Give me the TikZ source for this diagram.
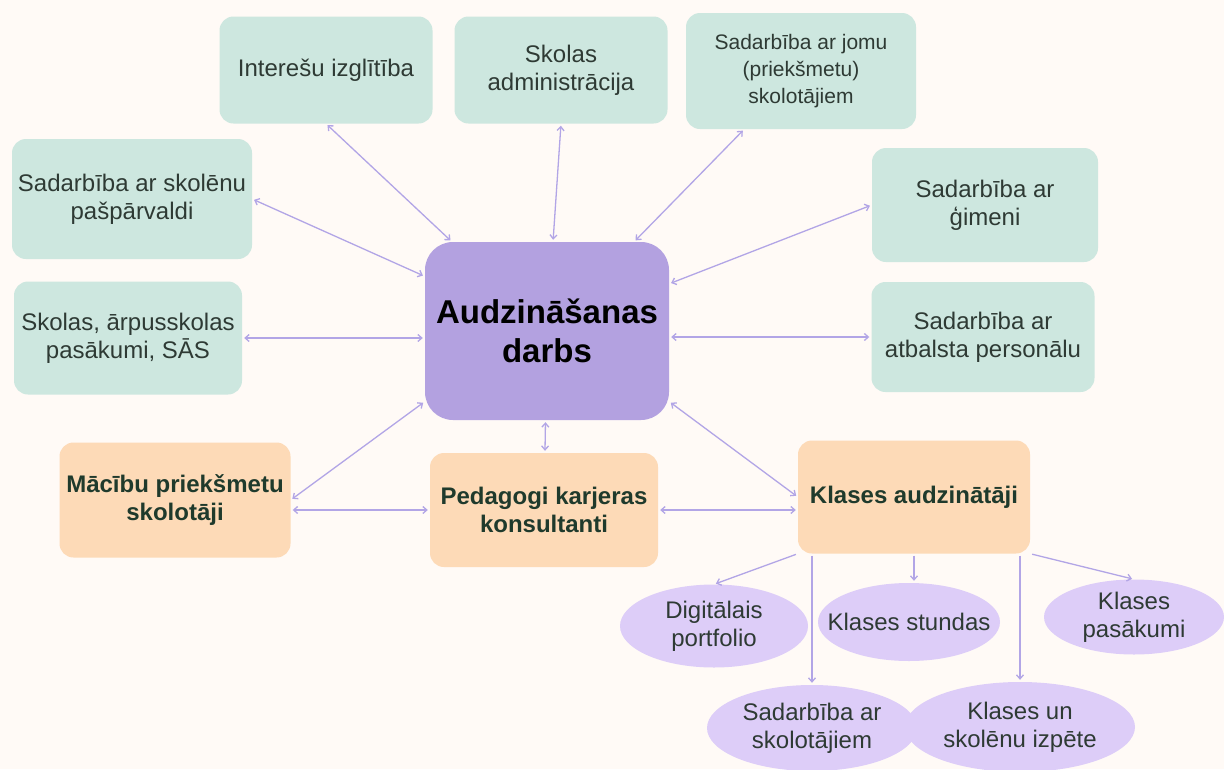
\documentclass[tikz,border=0pt]{standalone}
\usepackage{fontspec}
\setmainfont{Liberation Sans}
\usetikzlibrary{shapes.geometric,arrows.meta}
\definecolor{bgcol}{HTML}{FFFAF6}
\definecolor{tealbox}{HTML}{CDE7DF}
\definecolor{mainbox}{HTML}{B3A1E0}
\definecolor{rolebox}{HTML}{FDDAB7}
\definecolor{lilac}{HTML}{DDCDF8}
\definecolor{linkcol}{HTML}{B2A5E6}
\definecolor{txtcol}{HTML}{2E3A34}
\definecolor{roletxt}{HTML}{1F3A2C}
\begin{document}
\begin{tikzpicture}[
    x=1pt, y=-1pt,
    every node/.style={align=center, text=txtcol, inner sep=2pt, font=\fontsize{24}{28}\selectfont},
    topic/.style={fill=tealbox, rounded corners=14pt},
    role/.style={fill=rolebox, rounded corners=14pt, text=roletxt, font=\fontsize{24}{28}\selectfont\bfseries},
    task/.style={ellipse, fill=lilac, inner xsep=-25pt, inner ysep=0pt},
    link/.style={draw=linkcol, line width=1.3pt, shorten <=2pt, shorten >=2pt},
    >={Straight Barb[length=4pt,width=7pt]}
]
\fill[bgcol] (0,0) rectangle (1224,769);
\useasboundingbox (0,0) rectangle (1224,769);
\clip (0,0) rectangle (1224,769);

% centre
\node[fill=mainbox, rounded corners=28pt, minimum width=244pt, minimum height=178pt,
      text=black, font=\fontsize{33}{39}\selectfont\bfseries] (main) at (547,331) {Audzināšanas\\darbs};

% partners
\node[topic, minimum width=213pt, minimum height=107pt] (intr) at (326,70) {Interešu izglītība};
\node[topic, minimum width=213pt, minimum height=107pt] (adm) at (561,70) {Skolas\\administrācija};
\node[topic, minimum width=230pt, minimum height=116pt, font=\fontsize{21}{27}\selectfont] (jomu) at (801,71) {Sadarbība ar jomu\\(priekšmetu)\\skolotājiem};
\node[topic, minimum width=240pt, minimum height=120pt] (pasp) at (132,199) {Sadarbība ar skolēnu\\pašpārvaldi};
\node[topic, minimum width=226pt, minimum height=114pt] (gim) at (985,205) {Sadarbība ar\\ģimeni};
\node[topic, minimum width=228pt, minimum height=113pt] (ark) at (128,338) {Skolas, ārpusskolas\\pasākumi, SĀS};
\node[topic, minimum width=223pt, minimum height=110pt] (atb) at (983,337) {Sadarbība ar\\atbalsta personālu};

% roles
\node[role, minimum width=231pt, minimum height=115pt] (mac) at (175,500) {Mācību priekšmetu\\skolotāji};
\node[role, minimum width=228pt, minimum height=114pt] (ped) at (544,510) {Pedagogi karjeras\\konsultanti};
\node[role, minimum width=232pt, minimum height=113pt] (kla) at (914,497) {Klases audzinātāji};

% tasks
\node[task, minimum width=188pt, minimum height=83pt] (dig) at (714,626) {Digitālais\\portfolio};
\node[task, minimum width=182pt, minimum height=78pt] (stu) at (909,622) {Klases stundas};
\node[task, minimum width=180pt, minimum height=75pt] (pas) at (1134,617) {Klases\\pasākumi};
\node[task, minimum width=210pt, minimum height=86pt] (sk) at (812,728) {Sadarbība ar\\skolotājiem};
\node[task, minimum width=230pt, minimum height=90pt] (izp) at (1020,727) {Klases un\\skolēnu izpēte};

% links
\draw[link, <->] (intr.south) -- (main);
\draw[link, <->] (adm.south) -- (main);
\draw[link, <->] (jomu) -- (main);
\draw[link, <->] (pasp.east) -- (main);
\draw[link, <->] (gim.west) -- (main);
\draw[link, <->] (ark.east) -- (ark.east -| main.west);
\draw[link, <->] (atb.west) -- (atb.west -| main.east);
\draw[link, <->] (mac.east) -- (main.210);
\draw[link, <->] (ped) -- (main);
\draw[link, <->] (kla.west) -- (main.-30);
\draw[link, <->] (ped.west) -- (ped.west -| mac.east);
\draw[link, <->] (ped.east) -- (ped.east -| kla.west);

\draw[link, ->] (kla.south west) -- (dig.north);
\draw[link, ->] (sk.north |- kla.south) -- (sk.north);
\draw[link, ->] (kla.south) -- (kla.south |- stu.north);
\draw[link, ->] (izp.north |- kla.south) -- (izp.north);
\draw[link, ->] (kla.south east) -- (pas.north);
\end{tikzpicture}
\end{document}
